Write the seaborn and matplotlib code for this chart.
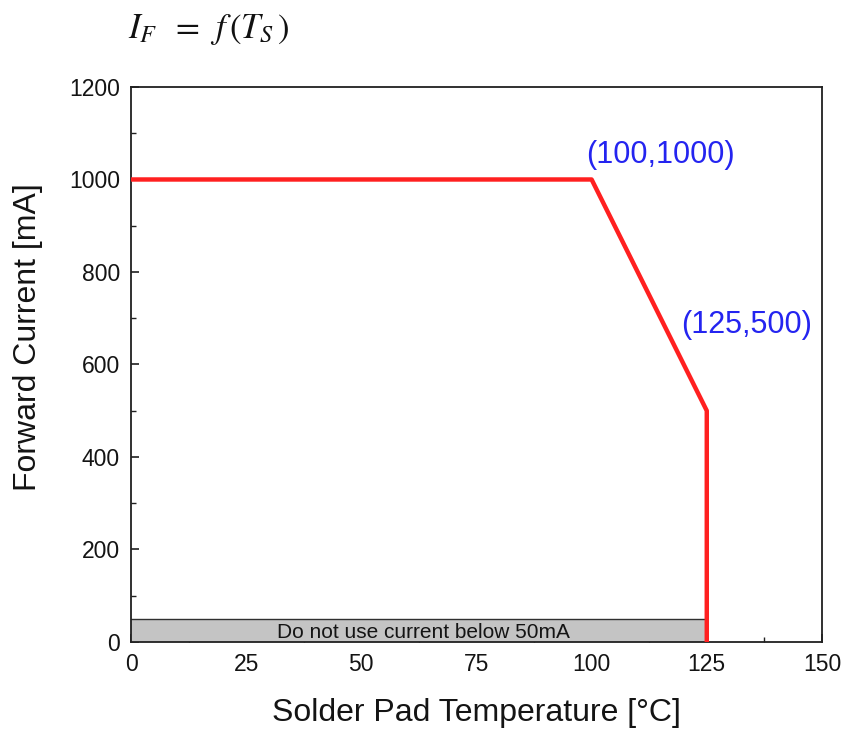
import matplotlib
matplotlib.use("Agg")
import matplotlib.pyplot as plt
from matplotlib.ticker import MultipleLocator
import seaborn as sns
import pandas as pd

# Derating curve: forward current vs solder pad temperature
temperature_c = [0, 100, 125, 125]
forward_current_ma = [1000, 1000, 500, 0]

# Labelled knee points
knee_labels = ["(100,1000)", "(125,500)"]

# Minimum-current band
band_temp = [0, 125]
band_limit_ma = 50

x_ticks = [0, 25, 50, 75, 100, 125, 150]
y_ticks = [0, 200, 400, 600, 800, 1000, 1200]

sns.set_theme(style="white")
plt.rcParams["font.family"] = ["Liberation Sans", "DejaVu Sans"]
plt.rcParams["mathtext.fontset"] = "stix"

TXT = "#141414"

fig = plt.figure(figsize=(8.43, 7.31), dpi=100)
ax = fig.add_axes([0.1554, 0.1218, 0.8196, 0.7592])

df = pd.DataFrame({"T": temperature_c, "I": forward_current_ma})

# Grey band for the forbidden low-current region
ax.fill_between(band_temp, 0, band_limit_ma, color="#c4c4c4", zorder=1, linewidth=0)
ax.plot(band_temp, [band_limit_ma, band_limit_ma], color="#303030", lw=1.0, zorder=1.5)
ax.text(63.5, 21, "Do not use current below 50mA", ha="center", va="center",
        fontsize=15, color=TXT, zorder=2)

sns.lineplot(data=df, x="T", y="I", sort=False, estimator=None,
             color="#ff2020", linewidth=3.2, ax=ax, zorder=3)

# Knee annotations
ax.text(131, 1053, knee_labels[0], color="#2424f0", fontsize=22,
        ha="right", va="center")
ax.text(147.8, 685, knee_labels[1], color="#2424f0", fontsize=22,
        ha="right", va="center")

ax.set_xlim(0, 150)
ax.set_ylim(0, 1200)
ax.set_xticks(x_ticks)
ax.set_yticks(y_ticks)
ax.set_xticklabels([str(v) for v in x_ticks])
ax.set_yticklabels([str(v) for v in y_ticks])
ax.xaxis.set_minor_locator(MultipleLocator(12.5))
ax.yaxis.set_minor_locator(MultipleLocator(100))
ax.tick_params(axis="both", which="major", direction="in", length=6, width=1.2,
               color="#202020", labelsize=16.5, pad=8, bottom=True, left=True,
               top=False, right=False, labelcolor=TXT)
ax.tick_params(axis="both", which="minor", direction="in", length=3.5, width=1.0,
               color="#202020", bottom=True, left=True, top=False, right=False)

for s in ax.spines.values():
    s.set_visible(True)
    s.set_color("#202020")
    s.set_linewidth(1.3)

ax.set_xlabel("Solder Pad Temperature [\u00b0C]", fontsize=23, color=TXT, va="center")
ax.xaxis.set_label_coords(0.5, -0.128)
ax.set_ylabel("Forward Current [mA]", fontsize=23, color=TXT, va="center")
ax.yaxis.set_label_coords(-0.149, 0.549)

fig.text(0.152, 0.960, r"$I_{F}\;\;=\;\,f\,\left(T_{S}\,\right)$", fontsize=25,
         ha="left", va="center", color="#111111")

fig.savefig("out.png", dpi=100, facecolor="white")
